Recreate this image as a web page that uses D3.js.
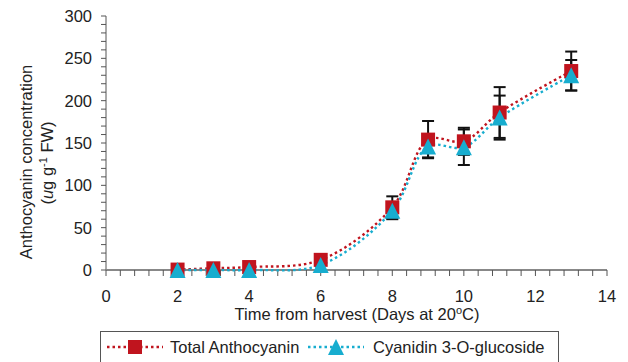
<html>
<head>
<meta charset="utf-8" />
<script src="https://d3js.org/d3.v7.min.js"></script>
<style>
  body { margin: 0; background: white; }
  text { font-family: "Liberation Sans", Arial, sans-serif; fill: #222; }
</style>
</head>
<body>
<script>
// values
var days = [2, 3, 4, 6, 8, 9, 10, 11, 13];
var totalAntho = [0.5, 2, 3.5, 12, 74, 154, 152, 186, 235];
var totalErr = [0, 0, 0, 0, 13, 22, 16, 30, 23];
var cyanidin = [0, 0, 0, 6, 70, 146, 145, 180, 230];
var cyanidinErr = [0, 0, 0, 0, 10, 13, 21, 26, 18];
var xTicks = [0, 2, 4, 6, 8, 10, 12, 14];
var yTicks = [0, 50, 100, 150, 200, 250, 300];
var seriesNames = ["Total Anthocyanin", "Cyanidin 3-O-glucoside"];

var width = 628, height = 362;
var red = "#c0141e", cyan = "#17adcf";
var fs = "16.5px";

var svg = d3.select("body").append("svg")
    .attr("width", width)
    .attr("height", height);

var x = d3.scaleLinear().domain([0, 14]).range([106, 607]);
var y = d3.scaleLinear().domain([0, 300]).range([270, 16]);

// y axis with minor ticks every 10
var yAxis = svg.append("g");
yAxis.append("line")
    .attr("x1", x(0)).attr("x2", x(0))
    .attr("y1", y(300)).attr("y2", y(0))
    .attr("stroke", "#555").attr("stroke-width", 1);
yAxis.selectAll(".ytick")
  .data(d3.range(0, 301, 10))
  .enter().append("line")
    .attr("x1", x(0) - 5).attr("x2", x(0))
    .attr("y1", function(d) { return y(d); })
    .attr("y2", function(d) { return y(d); })
    .attr("stroke", "#555");
yAxis.selectAll(".ylab")
  .data(yTicks)
  .enter().append("text")
    .attr("x", 92)
    .attr("y", function(d) { return y(d) + 6; })
    .attr("text-anchor", "end")
    .style("font-size", fs)
    .text(function(d) { return d; });

// x axis with minor ticks every 0.4
var xAxis = svg.append("g");
xAxis.append("line")
    .attr("x1", x(0)).attr("x2", x(14))
    .attr("y1", y(0)).attr("y2", y(0))
    .attr("stroke", "#888").attr("stroke-width", 2);
xAxis.selectAll(".xtick")
  .data(d3.range(0, 36).map(function(i) { return i * 0.4; }))
  .enter().append("line")
    .attr("x1", function(d) { return x(d); })
    .attr("x2", function(d) { return x(d); })
    .attr("y1", y(0)).attr("y2", y(0) + 6)
    .attr("stroke", "#555");
xAxis.selectAll(".xlab")
  .data(xTicks)
  .enter().append("text")
    .attr("x", function(d) { return x(d); })
    .attr("y", 302)
    .attr("text-anchor", "middle")
    .style("font-size", fs)
    .text(function(d) { return d; });

// axis titles
var xt = svg.append("text")
    .attr("x", 357).attr("y", 320)
    .attr("text-anchor", "middle")
    .style("font-size", fs);
xt.append("tspan").text("Time from harvest (Days at 20");
xt.append("tspan").attr("dy", -6).style("font-size", "11px").text("o");
xt.append("tspan").attr("dy", 6).text("C)");

svg.append("text")
    .attr("transform", "translate(32,162)rotate(-90)")
    .attr("text-anchor", "middle")
    .style("font-size", fs)
    .text("Anthocyanin concentration");
var yt2 = svg.append("text")
    .attr("transform", "translate(53,163)rotate(-90)")
    .attr("text-anchor", "middle")
    .style("font-size", fs);
yt2.append("tspan").text("(");
yt2.append("tspan").style("font-style", "italic").text("u");
yt2.append("tspan").text("g g");
yt2.append("tspan").attr("dy", -6).style("font-size", "11px").text("-1");
yt2.append("tspan").attr("dy", 6).text(" FW)");

// series
var series = [
  {name: seriesNames[0], values: totalAntho, err: totalErr, color: red, shape: "square"},
  {name: seriesNames[1], values: cyanidin, err: cyanidinErr, color: cyan, shape: "triangle"}
];

var line = d3.line()
    .x(function(d) { return x(d[0]); })
    .y(function(d) { return y(d[1]); })
    .curve(d3.curveCatmullRom.alpha(0.5));

series.forEach(function(s) {
  var pts = days.map(function(d, i) { return [d, s.values[i]]; });
  svg.append("path")
      .attr("d", line(pts))
      .attr("fill", "none")
      .attr("stroke", s.color)
      .attr("stroke-width", 2.4)
      .attr("stroke-dasharray", "2.5,3");
});

// error bars
series.forEach(function(s) {
  var g = svg.append("g").attr("stroke", "#111").attr("stroke-width", 2);
  days.forEach(function(d, i) {
    if (!s.err[i]) return;
    var cx = x(d), top = y(s.values[i] + s.err[i]), bot = y(s.values[i] - s.err[i]);
    g.append("line").attr("x1", cx).attr("x2", cx).attr("y1", top).attr("y2", bot);
    g.append("line").attr("x1", cx - 6).attr("x2", cx + 6).attr("y1", top).attr("y2", top);
    g.append("line").attr("x1", cx - 6).attr("x2", cx + 6).attr("y1", bot).attr("y2", bot);
  });
});

function marker(g, shape, color, cx, cy) {
  if (shape === "square") {
    g.append("rect")
        .attr("x", cx - 7).attr("y", cy - 7)
        .attr("width", 14).attr("height", 14)
        .attr("fill", color);
  } else {
    g.append("path")
        .attr("d", "M" + cx + "," + (cy - 8) + "L" + (cx + 8) + "," + (cy + 8) + "L" + (cx - 8) + "," + (cy + 8) + "Z")
        .attr("fill", color);
  }
}

series.forEach(function(s) {
  var g = svg.append("g");
  days.forEach(function(d, i) {
    marker(g, s.shape, s.color, x(d), y(s.values[i]));
  });
});

// legend
var leg = svg.append("g");
leg.append("rect")
    .attr("x", 100.5).attr("y", 331.5)
    .attr("width", 458).attr("height", 40)
    .attr("fill", "white")
    .attr("stroke", "#555");
var legPos = [{x0: 107, text: 170}, {x0: 308, text: 373}];
series.forEach(function(s, i) {
  var p = legPos[i];
  leg.append("line")
      .attr("x1", p.x0).attr("x2", p.x0 + 56)
      .attr("y1", 347).attr("y2", 347)
      .attr("stroke", s.color).attr("stroke-width", 2.4)
      .attr("stroke-dasharray", "2.5,3");
  marker(leg, s.shape, s.color, p.x0 + 28, 347);
  leg.append("text")
      .attr("x", p.text).attr("y", 353)
      .style("font-size", fs)
      .text(s.name);
});
</script>
</body>
</html>
